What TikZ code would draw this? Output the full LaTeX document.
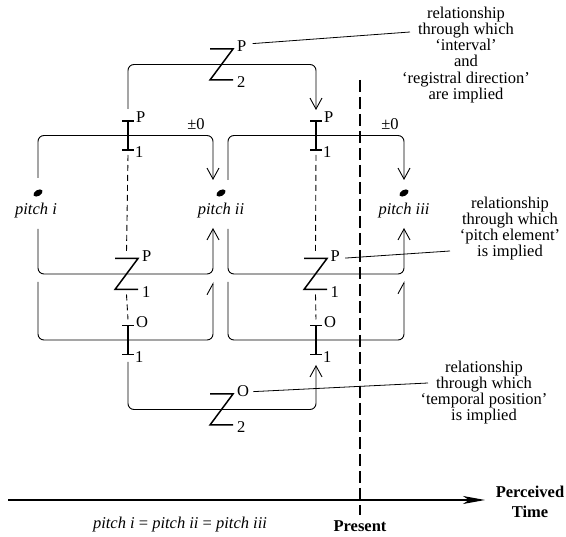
\documentclass[tikz,border=0pt]{standalone}
\usepackage{fontspec}
\setmainfont{Liberation Serif}
\usetikzlibrary{arrows.meta,shapes.geometric}
\newcommand\dfont{\fontsize{16.5pt}{16.2pt}\selectfont}
\begin{document}
\begin{tikzpicture}[x=1pt,y=-1pt,
  every node/.style={font=\dfont},
  conn/.style={line width=0.9pt, rounded corners=6pt},
  arr/.style={-{Straight Barb[length=11pt,width=12pt]}},
  harp/.style={-{Straight Barb[harpoon,length=11pt,width=12pt]}},
  dashline/.style={line width=0.9pt, dash pattern=on 6pt off 4pt},
  symline/.style={line width=1.5pt},
  zsym/.style={minimum width=23pt, minimum height=31pt, inner sep=0pt, outer sep=0pt},
  isym/.style={minimum width=12pt, minimum height=29pt, inner sep=0pt, outer sep=0pt},
  lbl/.style={inner sep=0pt, anchor=base west, font=\dfont},
  pitchdot/.style={ellipse, fill, inner sep=0pt, minimum width=10pt, minimum height=6pt, rotate=30},
  pitchlbl/.style={inner sep=0pt, anchor=base, font=\dfont\itshape},
  ann/.style={inner sep=0pt, anchor=north, align=center, font=\dfont},
  leader/.style={line width=0.8pt}
]
\useasboundingbox (0,0) rectangle (566,537);

% pitches
\node[pitchdot] (p1) at (38,193) {};
\node[pitchdot] (p2) at (221,193) {};
\node[pitchdot] (p3) at (404,193) {};
\node[pitchlbl] (p1l) at (36,215) {pitch i};
\node[pitchlbl] (p2l) at (221,215) {pitch ii};
\node[pitchlbl] (p3l) at (404,215) {pitch iii};

% symbols
\node[zsym] (zt) at (221.5,64.5) {};
\node[zsym] (zl) at (126.5,274) {};
\node[zsym] (zm) at (315.5,274) {};
\node[zsym] (zb) at (221.5,409.5) {};
\node[isym] (ip1) at (128,135.5) {};
\node[isym] (ip2) at (316,135.5) {};
\node[isym] (io1) at (128,340) {};
\node[isym] (io2) at (316,340) {};

% connector end points
\coordinate (p1ot) at (38,178);
\coordinate (p1om) at (38,229);
\coordinate (p1ob) at (38,282);
\coordinate (p2it) at (213,180);
\coordinate (p2im) at (213,228);
\coordinate (p2ib) at (213,282);
\coordinate (p2ot) at (228,180);
\coordinate (p2om) at (228,229);
\coordinate (p2ob) at (228,282);
\coordinate (p3it) at (404,180);
\coordinate (p3im) at (404,228);
\coordinate (p3ib) at (404,281);
\coordinate (ztL) at (128,109);
\coordinate (ztR) at (316,110);
\coordinate (zbL) at (128,362);
\coordinate (zbR) at (316,365);

% connectors
\draw[conn,arr] (ztL) |- (zt.center) -| (ztR);
\draw[conn,arr] (p1ot) |- (ip1.center) -| (p2it);
\draw[conn,arr] (p2ot) |- (ip2.center) -| (p3it);
\draw[conn,arr] (p1om) |- (zl.center) -| (p2im);
\draw[conn,arr] (p2om) |- (zm.center) -| (p3im);
\draw[conn,harp] (p1ob) |- (io1.center) -| (p2ib);
\draw[conn,harp] (p2ob) |- (io2.center) -| (p3ib);
\draw[conn,arr] (zbL) |- (zb.center) -| (zbR);

% dashed links
\draw[dashline] ([yshift=-5pt]ip1.south) -- ([yshift=6pt]zl.north);
\draw[dashline] ([yshift=-5pt]zl.south) -- ([yshift=6pt]io1.north);
\draw[dashline] ([yshift=-5pt]ip2.south) -- ([yshift=6pt]zm.north);
\draw[dashline] ([yshift=-5pt]zm.south) -- ([yshift=6pt]io2.north);

% draw symbols
\foreach \z in {zt,zl,zm,zb}
  \draw[symline] (\z.north west) -- (\z.north east) -- (\z.south west) -- (\z.south east);
\foreach \i in {ip1,ip2,io1,io2}
  \draw[symline] (\i.north west) -- (\i.north east) (\i.north) -- (\i.south) (\i.south west) -- (\i.south east);

% symbol labels
\node[lbl] (ztP) at ([xshift=4pt,yshift=-3pt]zt.north east) {P};
\node[lbl] (zt2) at ([xshift=4pt,yshift=-8pt]zt.south east) {2};
\node[lbl] (zlP) at ([xshift=4pt,yshift=-3pt]zl.north east) {P};
\node[lbl] (zl1) at ([xshift=4pt,yshift=-8pt]zl.south east) {1};
\node[lbl] (zmP) at ([xshift=3.5pt,yshift=-3pt]zm.north east) {P};
\node[lbl] (zm1) at ([xshift=3.5pt,yshift=-8pt]zm.south east) {1};
\node[lbl] (zbO) at ([xshift=4pt,yshift=-3pt]zb.north east) {O};
\node[lbl] (zb2) at ([xshift=4pt,yshift=-8pt]zb.south east) {2};
\node[lbl] (ip1P) at ([xshift=2pt,yshift=-2pt]ip1.north east) {P};
\node[lbl] (ip11) at ([xshift=1pt,yshift=-8pt]ip1.south east) {1};
\node[lbl] (ip2P) at ([xshift=2pt,yshift=-2pt]ip2.north east) {P};
\node[lbl] (ip21) at ([xshift=1pt,yshift=-8pt]ip2.south east) {1};
\node[lbl] (io1O) at ([xshift=2pt,yshift=-2pt]io1.north east) {O};
\node[lbl] (io11) at ([xshift=1pt,yshift=-8pt]io1.south east) {1};
\node[lbl] (io2O) at ([xshift=2pt,yshift=-2pt]io2.north east) {O};
\node[lbl] (io21) at ([xshift=1pt,yshift=-8pt]io2.south east) {1};

% ±0 labels
\node[inner sep=0pt, anchor=base, font=\dfont] (pm1) at (196,130) {±0};
\node[inner sep=0pt, anchor=base, font=\dfont] (pm2) at (390,130) {±0};

% annotations
\node[ann] (ann1) at (466,6.7) {relationship\\through which\\‘interval’\\and\\‘registral direction’\\are implied};
\node[ann] (ann2) at (510,196.7) {relationship\\through which\\‘pitch element’\\is implied};
\node[ann] (ann3) at (484,360.7) {relationship\\through which\\‘temporal position’\\is implied};
\coordinate (l1e) at (410,32);
\coordinate (l2e) at (450,251);
\coordinate (l3e) at (428,383);
\draw[leader] ([xshift=6pt,yshift=3pt]ztP.east) -- (l1e);
\draw[leader] ([xshift=5pt,yshift=-2pt]zmP.east) -- (l2e);
\draw[leader] ([xshift=4pt,yshift=0pt]zbO.east) -- (l3e);

% present line
\coordinate (prt) at (360,80);
\coordinate (prb) at (360,515);
\draw[line width=1.4pt, dash pattern=on 12pt off 5pt] (prt) -- (prb);

% time axis
\coordinate (ts) at (8,500);
\coordinate (te) at (485,500);
\draw[line width=1.1pt, -{Stealth[length=22pt,width=8pt,inset=6pt]}] (ts) -- (te);
\node[inner sep=0pt, anchor=base, font=\dfont\bfseries] (present) at (360,532) {Present};
\node[ann, font=\fontsize{16.5pt}{20pt}\selectfont\bfseries] (ptime) at (530,485.7) {Perceived\\Time};
\node[pitchlbl] (eq) at (180,529) {pitch i {\upshape=} pitch ii {\upshape=} pitch iii};
\end{tikzpicture}
\end{document}
